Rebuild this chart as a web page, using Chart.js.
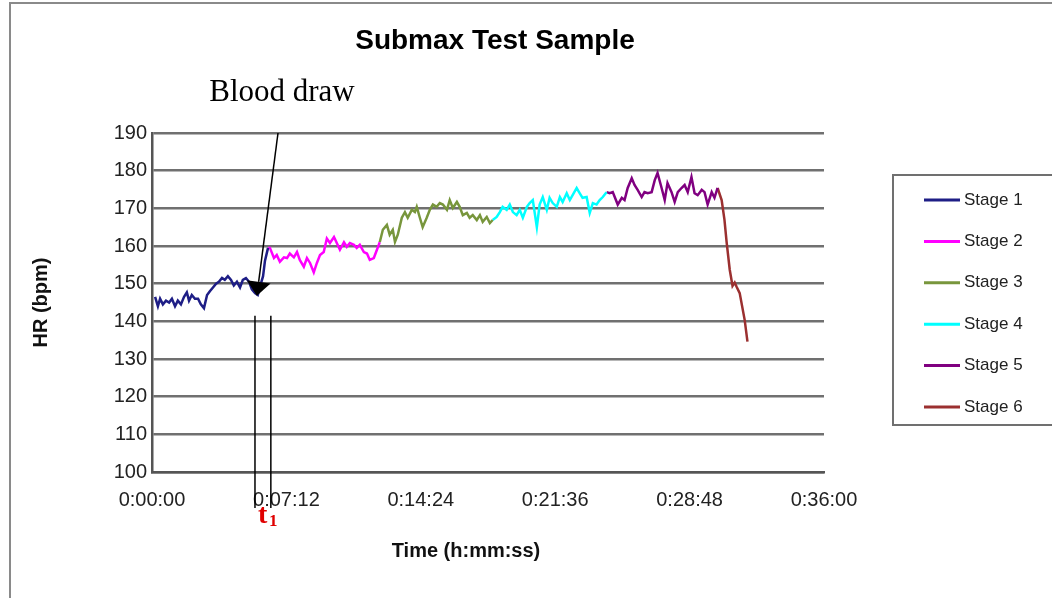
<!DOCTYPE html>
<html>
<head>
<meta charset="utf-8">
<title>Submax Test Sample</title>
<script src="https://cdn.jsdelivr.net/npm/chart.js@4.4.1/dist/chart.umd.min.js"></script>
<style>
  html, body { margin: 0; padding: 0; background: #fff; }
  #wrap { position: relative; width: 1052px; height: 598px; overflow: hidden; }
  #frame { position: absolute; left: 9px; top: 2px; width: 1100px; height: 700px;
           border-top: 2px solid #8a8a8a; border-left: 2px solid #8a8a8a; pointer-events: none; }
  canvas { position: absolute; left: 0; top: 0; }
</style>
</head>
<body>
<div id="wrap">
  <canvas id="hrChart" width="1052" height="598"></canvas>
  <div id="frame"></div>
</div>
<script>
// elapsed time in seconds, heart rate in bpm
const stage1Sec = [10, 19, 26, 35, 45, 55, 64, 74, 83, 93, 103, 112, 119, 128, 138, 148, 157, 167, 177, 186,
    196, 206, 215, 225, 234, 244, 254, 263, 273, 283, 292, 302, 312, 321, 331, 340, 350, 357, 363, 373];
const stage1Hr = [146.5, 144, 146, 144.5, 145.5, 145, 146, 144, 145.5, 144.5, 146.5, 147.7, 145.5, 147, 146, 146, 144.5, 143.5, 147, 148,
    149, 150, 150.5, 151.5, 151, 152, 151, 149.5, 150.5, 149, 151, 151.5, 150.5, 148.5, 147.5, 147, 150, 152, 156, 159.5];

const stage2Sec = [373, 379, 392, 401, 411, 424, 434, 443, 456, 466, 475, 488, 498, 508, 520, 530, 540, 552, 562, 572,
    585, 594, 604, 617, 626, 636, 649, 658, 668, 681, 691, 700, 713, 723, 732];
const stage2Hr = [159.5, 159.5, 156.8, 157.6, 155.8, 157, 156.8, 158, 157, 158.4, 156.3, 154.5, 156.8, 155.5, 153, 155.5, 157.6, 158.4, 162, 160.8,
    162.4, 160.8, 159, 161, 159.8, 160.8, 160.3, 159.5, 160.3, 158.4, 158, 156.3, 156.8, 159, 161];

const stage3Sec = [732, 742, 755, 764, 774, 781, 790, 803, 813, 822, 835, 845, 851, 861, 870, 883, 893, 903, 915, 925,
    935, 948, 957, 967, 980, 989, 999, 1012, 1021, 1031, 1044, 1054, 1063, 1076, 1086, 1095];
const stage3Hr = [161, 164.3, 165.6, 163, 164.3, 161.1, 163, 167.5, 169, 167.5, 169.6, 169, 170.4, 167.5, 165, 167.5, 169.6, 171, 170.4, 171.4,
    171, 169.6, 172.2, 170.1, 171.7, 170.4, 168.2, 168.8, 167.5, 168.2, 166.9, 168.2, 166.4, 167.7, 166.1, 166.9];

const stage4Sec = [1095, 1108, 1118, 1127, 1140, 1150, 1160, 1172, 1182, 1192, 1205, 1214, 1224, 1237, 1246, 1256, 1269, 1278, 1288, 1301,
    1311, 1320, 1333, 1343, 1352, 1365, 1375, 1384, 1397, 1407, 1417, 1429, 1439, 1449, 1461];
const stage4Hr = [166.9, 167.7, 169, 170.4, 169.6, 171, 169, 168.2, 169.6, 167.5, 170.4, 171.4, 172.2, 165, 171, 173, 169.6, 172.8, 171.4, 170.4,
    173, 171.7, 174, 172.2, 173.5, 175.4, 174, 172.8, 173, 168.8, 171.4, 171, 172.2, 173, 174.3];

const stage5Sec = [1461, 1471, 1481, 1497, 1510, 1519, 1529, 1542, 1551, 1561, 1574, 1583, 1593, 1606, 1616, 1625, 1638, 1648, 1657, 1670,
    1680, 1690, 1702, 1712, 1722, 1734, 1744, 1754, 1767, 1776, 1786, 1799, 1808, 1818];
const stage5Hr = [174.3, 174, 174.3, 171, 172.8, 172.2, 175.4, 178, 176.2, 174.9, 173, 174.3, 174, 174.3, 177.5, 179.4, 175.4, 172.2, 176.7, 174.3,
    171.7, 174.3, 175.4, 176.2, 174.3, 178.3, 174, 173.5, 174.9, 174.3, 171, 174.3, 172.8, 175.4];

const stage6Sec = [1818, 1831, 1840, 1847, 1857, 1866, 1873, 1879, 1889, 1905, 1914];
const stage6Hr = [175.4, 172.2, 167, 161, 153.7, 149.4, 150.3, 149.2, 147.5, 140.4, 134.6];

const stageLabels = ["Stage 1", "Stage 2", "Stage 3", "Stage 4", "Stage 5", "Stage 6"];
const stageColors = ["#1e1e86", "#ff00ff", "#78963c", "#00ffff", "#800080", "#9b3030"];

const yTicks = { min: 100, max: 190, step: 10 };
const xTicks = { min: 0, max: 2160, step: 432 };

// blood draw marker (seconds / bpm)
const arrowFrom = { t: 405, hr: 190 };
const arrowTo = { t: 337, hr: 146.8 };
const t1Lines = [331, 382];
const t1LineTop = 141.5;

const FONT = "'Liberation Sans', Arial, sans-serif";

const fmtTime = (s) => {
    const h = Math.floor(s / 3600);
    const m = Math.floor((s % 3600) / 60);
    const sec = Math.round(s % 60);
    return `${h}:${String(m).padStart(2, "0")}:${String(sec).padStart(2, "0")}`;
};

const allSec = [stage1Sec, stage2Sec, stage3Sec, stage4Sec, stage5Sec, stage6Sec];
const allHr = [stage1Hr, stage2Hr, stage3Hr, stage4Hr, stage5Hr, stage6Hr];

const datasets = stageLabels.map((label, i) => ({
    label: label,
    data: allSec[i].map((t, j) => ({ x: t, y: allHr[i][j] })),
    borderColor: stageColors[i],
    borderWidth: 2.5,
    pointRadius: 0,
    tension: 0,
    fill: false
}));

const extras = {
    id: "extras",
    afterDraw(chart) {
        const { ctx, scales: { x, y } } = chart;
        ctx.save();

        // title
        ctx.fillStyle = "#000";
        ctx.font = `bold 28px ${FONT}`;
        ctx.textAlign = "center";
        ctx.textBaseline = "middle";
        ctx.fillText("Submax Test Sample", 495, 41);

        // x axis title
        ctx.font = `bold 20px ${FONT}`;
        ctx.fillStyle = "#111";
        ctx.fillText("Time (h:mm:ss)", 466, 551);

        // blood draw label + arrow
        ctx.font = "31px 'Liberation Serif', 'Times New Roman', serif";
        ctx.fillStyle = "#000";
        ctx.fillText("Blood draw", 282, 93);

        const x0 = x.getPixelForValue(arrowFrom.t), y0 = y.getPixelForValue(arrowFrom.hr);
        const x1 = x.getPixelForValue(arrowTo.t), y1 = y.getPixelForValue(arrowTo.hr);
        const len = Math.hypot(x1 - x0, y1 - y0);
        const ux = (x1 - x0) / len, uy = (y1 - y0) / len;
        const bx = x1 - ux * 14, by = y1 - uy * 14;
        ctx.strokeStyle = "#000";
        ctx.lineWidth = 1.5;
        ctx.beginPath();
        ctx.moveTo(x0, y0);
        ctx.lineTo(bx, by);
        ctx.stroke();
        ctx.beginPath();
        ctx.moveTo(x1, y1);
        ctx.lineTo(bx - uy * 12, by + ux * 12);
        ctx.lineTo(bx + uy * 12, by - ux * 12);
        ctx.closePath();
        ctx.fill();

        // t1 lines
        const lt = y.getPixelForValue(t1LineTop);
        t1Lines.forEach(t => {
            const px = x.getPixelForValue(t);
            ctx.beginPath();
            ctx.moveTo(px, lt);
            ctx.lineTo(px, y.bottom + 36);
            ctx.stroke();
        });
        ctx.fillStyle = "#e00000";
        ctx.textAlign = "left";
        ctx.font = "bold 28px 'Liberation Serif', serif";
        ctx.fillText("t", 258, 516);
        ctx.font = "bold 17px 'Liberation Serif', serif";
        ctx.fillText("1", 269, 522);

        // legend
        ctx.strokeStyle = "#707070";
        ctx.lineWidth = 2;
        ctx.strokeRect(893, 175, 200, 250);
        ctx.font = `17px ${FONT}`;
        ctx.textBaseline = "middle";
        chart.data.datasets.forEach((ds, i) => {
            const ly = 200 + i * 41.4;
            ctx.strokeStyle = ds.borderColor;
            ctx.lineWidth = 3;
            ctx.beginPath();
            ctx.moveTo(924, ly);
            ctx.lineTo(960, ly);
            ctx.stroke();
            ctx.fillStyle = "#222";
            ctx.fillText(ds.label, 964, ly);
        });

        ctx.restore();
    }
};

new Chart(document.getElementById("hrChart"), {
    type: "line",
    data: { datasets: datasets },
    options: {
        responsive: false,
        animation: false,
        layout: { padding: { left: 29, right: 228, top: 133, bottom: 0 } },
        plugins: {
            legend: { display: false },
            title: { display: false },
            tooltip: { enabled: false }
        },
        scales: {
            x: {
                type: "linear",
                min: xTicks.min,
                max: xTicks.max,
                ticks: {
                    stepSize: xTicks.step,
                    callback: (v) => fmtTime(v),
                    font: { family: FONT, size: 20 },
                    color: "#222",
                    padding: 16,
                    maxRotation: 0,
                    autoSkip: false
                },
                grid: { display: false, drawTicks: false },
                border: { color: "#555", width: 2.5 },
                afterFit: (s) => { s.height = 126; }
            },
            y: {
                min: yTicks.min,
                max: yTicks.max,
                ticks: {
                    stepSize: yTicks.step,
                    font: { family: FONT, size: 20 },
                    color: "#222",
                    padding: 5
                },
                grid: { color: "#707070", lineWidth: 2.5, drawTicks: false },
                border: { color: "#555", width: 2.5 },
                title: {
                    display: true,
                    text: "HR (bpm)",
                    font: { family: FONT, size: 20, weight: "bold" },
                    color: "#111",
                    padding: { top: 0, bottom: 0 }
                },
                afterFit: (s) => { s.width = 123; }
            }
        }
    },
    plugins: [extras]
});
</script>
</body>
</html>
